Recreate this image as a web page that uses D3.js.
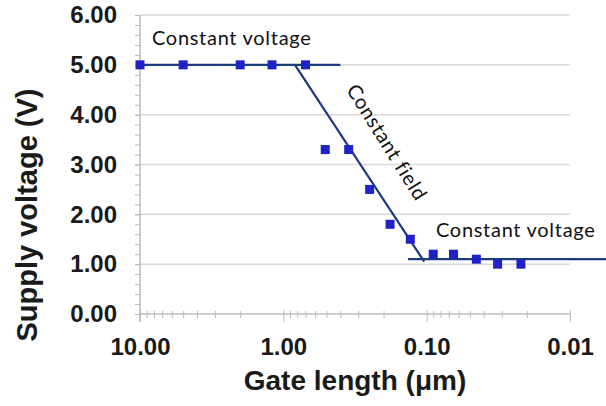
<!DOCTYPE html>
<html>
<head>
<meta charset="utf-8">
<script src="https://cdn.jsdelivr.net/npm/d3@7"></script>
<style>
  body { margin: 0; background: #fff; }
  .tick text { font-family: "Liberation Sans", Arial, sans-serif; font-weight: bold; font-size: 24px; fill: #1a1a1a; }
  .note { font-family: Lato, "Open Sans", sans-serif; font-size: 20px; letter-spacing: 0.7px; fill: #111; }
  .title { font-family: "Liberation Sans", Arial, sans-serif; font-weight: bold; fill: #1a1a1a; }
</style>
</head>
<body>
<div id="chart"></div>
<script>
// ------------------------------------------------------------------
// Data
var gateLength    = [10, 5, 2, 1.2, 0.7, 0.51, 0.35, 0.25, 0.18, 0.13, 0.09, 0.065, 0.045, 0.032, 0.022];
var supplyVoltage = [5, 5, 5, 5, 5, 3.3, 3.3, 2.5, 1.8, 1.5, 1.2, 1.2, 1.1, 1.0, 1.0];

// trend lines
var cvHighX = [10, 0.4],      cvHighY = [5, 5];
var fieldX  = [0.83, 0.104],  fieldY  = [5, 1.05];
var cvLowX  = [0.135, 0.0055], cvLowY = [1.1, 1.1];

var xTicks = [10, 1, 0.1, 0.01];
var yTicks = [0, 1, 2, 3, 4, 5, 6];

// ------------------------------------------------------------------
var width = 606, height = 406;
var svg = d3.select("#chart").append("svg")
  .attr("width", width)
  .attr("height", height);

var x = d3.scaleLog().domain([10, 0.01]).range([140, 570]);
var y = d3.scaleLinear().domain([0, 6]).range([314, 15]);

// gridlines
svg.append("g")
  .selectAll("line")
  .data(yTicks.slice(1))
  .enter().append("line")
  .attr("x1", x(10)).attr("x2", x(0.01))
  .attr("y1", function(d) { return y(d); })
  .attr("y2", function(d) { return y(d); })
  .attr("stroke", "#dadada")
  .attr("stroke-width", 1.5);

// minor ticks
var yMinor = d3.range(0, 30).map(function(i) { return i * 0.2; }).concat([6]);
var xMinor = [];
[10, 1, 0.1].forEach(function(dec) {
  for (var k = 2; k <= 9; k++) xMinor.push(dec * k / 10);
});

svg.append("g")
  .attr("transform", "translate(" + x(10) + ",0)")
  .call(d3.axisLeft(y).tickValues(yMinor).tickSize(5).tickFormat(""))
  .call(function(g) { g.select(".domain").remove(); g.selectAll("line").attr("stroke", "#bbb"); });

svg.append("g")
  .attr("transform", "translate(0," + (y(0) + 4) + ")")
  .call(d3.axisBottom(x).tickValues(xMinor).tickSize(7).tickFormat(""))
  .call(function(g) { g.select(".domain").remove(); g.selectAll("line").attr("stroke", "#bbb").attr("y1", -7).attr("y2", 0); });

// main axes
svg.append("g")
  .attr("transform", "translate(" + x(10) + ",0)")
  .call(d3.axisLeft(y).tickValues(yTicks).tickSize(5).tickPadding(18).tickFormat(d3.format(".2f")))
  .call(function(g) {
    g.select(".domain").attr("stroke", "#bbb").attr("stroke-width", 1.5).attr("d", "M0," + y(6) + "V" + (y(0) + 8));
    g.selectAll("line").attr("stroke", "#bbb");
  });

svg.append("g")
  .attr("transform", "translate(0," + y(0) + ")")
  .call(d3.axisBottom(x).tickValues(xTicks).tickSize(8).tickPadding(16).tickFormat(d3.format(".2f")))
  .call(function(g) {
    g.select(".domain").attr("stroke", "#bbb").attr("stroke-width", 1.5).attr("d", "M" + x(10) + ",0H" + x(0.01));
    g.selectAll("line").attr("stroke", "#bbb").attr("y1", -4);
  });

// trend lines
var line = d3.line()
  .x(function(d) { return x(d[0]); })
  .y(function(d) { return y(d[1]); });

[[cvHighX, cvHighY], [fieldX, fieldY], [cvLowX, cvLowY]].forEach(function(s) {
  svg.append("path")
    .attr("d", line(d3.zip(s[0], s[1])))
    .attr("fill", "none")
    .attr("stroke", "#1b3b7d")
    .attr("stroke-width", 2.2);
});

// markers
var ms = 9;
svg.append("g")
  .selectAll("rect")
  .data(d3.zip(gateLength, supplyVoltage))
  .enter().append("rect")
  .attr("x", function(d) { return x(d[0]) - ms / 2; })
  .attr("y", function(d) { return y(d[1]) - ms / 2; })
  .attr("width", ms)
  .attr("height", ms)
  .attr("fill", "#1f22c6");

// annotations
svg.append("text").attr("class", "note")
  .attr("x", 152).attr("y", 45)
  .text("Constant voltage");

svg.append("text").attr("class", "note")
  .attr("x", 436).attr("y", 237)
  .text("Constant voltage");

svg.append("text").attr("class", "note")
  .attr("text-anchor", "middle")
  .attr("transform", "translate(381,146) rotate(58)")
  .text("Constant field");

// axis titles
svg.append("text").attr("class", "title")
  .attr("x", 355).attr("y", 390)
  .attr("text-anchor", "middle")
  .style("font-size", "28px")
  .text("Gate length (\u03bcm)");

svg.append("text").attr("class", "title")
  .attr("transform", "translate(37,215) rotate(-90)")
  .attr("text-anchor", "middle")
  .style("font-size", "29px")
  .text("Supply voltage (V)");
</script>
</body>
</html>
